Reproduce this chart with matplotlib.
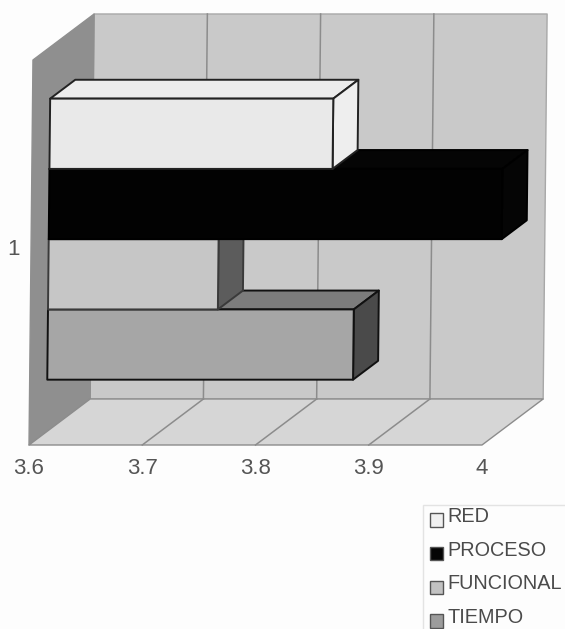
import matplotlib
matplotlib.use("Agg")
import matplotlib.pyplot as plt
from matplotlib.patches import Patch
from matplotlib.transforms import ScaledTranslation

plt.rcParams['font.family'] = ['Liberation Sans', 'DejaVu Sans']

series = ['RED', 'PROCESO', 'FUNCIONAL', 'TIEMPO']
values = [3.85, 4.0, 3.75, 3.87]
category_labels = ['1']
x_ticks = [3.6, 3.7, 3.8, 3.9, 4.0]
x_tick_labels = ['3.6', '3.7', '3.8', '3.9', '4']

front = ['#e9e9e9', '#020202', '#c6c6c6', '#a6a6a6']
top = ['#ececec', '#050505', '#555555', '#7c7c7c']
side = ['#eeeeee', '#050505', '#5c5c5c', '#4a4a4a']
edge = ['#222222', '#000000', '#3a3a3a', '#111111']
swatch = ['#f0f0f0', '#050505', '#c2c2c2', '#9c9c9c']

W, H = 565, 629
fig = plt.figure(figsize=(W / 100, H / 100), dpi=100, facecolor='#fdfdfd')
ax = fig.add_axes([29 / W, (H - 445) / H, 453 / W, 385 / H])
ax.set_facecolor('none')
XMIN, XMAX, YMIN, YMAX = 3.6, 4.0, 0.5, 1.5
ax.set_xlim(XMIN, XMAX)
ax.set_ylim(YMIN, YMAX)

# oblique projection of the 3-D box onto the axes' own data scale
DV, DC, TILT = 0.0540, 0.1195, 0.0035


def proj(v, c, d):
    return v + DV * d + TILT * (c - YMIN), c + DC * d


def face(points, fc, ec, lw=1.0, z=1):
    xy = [proj(*p) for p in points]
    ax.fill([p[0] for p in xy], [p[1] for p in xy], facecolor=fc, edgecolor=ec,
            linewidth=lw, clip_on=False, zorder=z, joinstyle='round')


def line(p0, p1, color='#8c8c8c', lw=1.1, z=2):
    a, b = proj(*p0), proj(*p1)
    ax.plot([a[0], b[0]], [a[1], b[1]], color=color, lw=lw, clip_on=False, zorder=z)


# walls and floor
face([(XMIN, YMIN, 1), (XMAX, YMIN, 1), (XMAX, YMAX, 1), (XMIN, YMAX, 1)], '#c9c9c9', '#a8a8a8')
face([(XMIN, YMIN, 0), (XMIN, YMIN, 1), (XMIN, YMAX, 1), (XMIN, YMAX, 0)], '#8f8f8f', '#8f8f8f')
face([(XMIN, YMIN, 0), (XMAX, YMIN, 0), (XMAX, YMIN, 1), (XMIN, YMIN, 1)], '#d6d6d6', '#8c8c8c')
for t in x_ticks[1:-1]:
    line((t, YMIN, 0), (t, YMIN, 1))
    line((t, YMIN, 1), (t, YMAX, 1))

# bars, stacked from the bottom up so the upper ones sit on the lower ones
band = 0.1825
D0, D1 = 0.29, 0.70
for i in reversed(range(len(series))):
    v = values[i]
    c0 = 1 + (1 - i) * band
    c1 = c0 + band
    face([(XMIN, c1, D0), (v, c1, D0), (v, c1, D1), (XMIN, c1, D1)], top[i], edge[i], 1.4, 3 + (3 - i))
    face([(v, c0, D0), (v, c0, D1), (v, c1, D1), (v, c1, D0)], side[i], edge[i], 1.4, 3 + (3 - i))
    face([(XMIN, c0, D0), (v, c0, D0), (v, c1, D0), (XMIN, c1, D0)], front[i], edge[i], 1.4, 3 + (3 - i))

# axes
for s in ax.spines.values():
    s.set_visible(False)
ax.set_xticks(x_ticks, x_tick_labels, fontsize=16, color='#555555')
ax.set_yticks([1], category_labels, fontsize=16, color='#555555')
ax.tick_params(axis='x', length=0, pad=9.5)
ax.tick_params(axis='y', length=0, pad=6.5)
for lab in ax.get_yticklabels():
    lab.set_transform(lab.get_transform() + ScaledTranslation(0, 4 / 72, fig.dpi_scale_trans))

# legend
handles = [Patch(facecolor=c, edgecolor='#555555', linewidth=1.0) for c in swatch]
leg = fig.legend(handles, series, loc='upper left', bbox_to_anchor=(423 / W, (H - 505) / H),
                 borderaxespad=0, fontsize=14.3, labelcolor='#4a4a4a', frameon=True,
                 fancybox=False, edgecolor='#dddddd', facecolor='#fdfdfd',
                 handlelength=0.65, handleheight=0.65, handletextpad=0.25,
                 labelspacing=0.74, borderpad=0.35)
for t in leg.get_texts():
    t.set_y(5)

fig.savefig('out.png', dpi=100, facecolor=fig.get_facecolor())
